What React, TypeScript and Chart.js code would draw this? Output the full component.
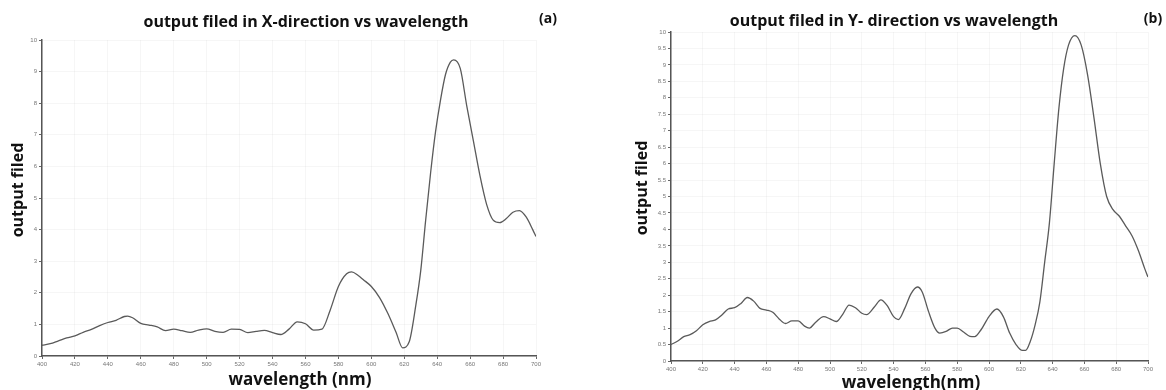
import React, { useEffect, useRef } from "react";
import { Chart, registerables } from "chart.js";
Chart.register(...registerables);

// Panel (a): output field in X-direction
const wavelengthsA = [400, 405, 410, 415, 420, 425, 430, 435, 440, 445, 450, 452, 455, 460, 465, 470, 475, 480, 485, 490, 495, 500, 505, 510, 515, 520, 525, 530, 535, 540, 545, 550, 555, 560, 565, 570, 575, 580, 585, 588, 592, 595, 600, 605, 610, 615, 619, 623, 627, 630, 633, 636, 639, 642, 645, 648, 650, 654, 658, 662, 666, 670, 674, 678, 682, 686, 690, 694, 698, 700];
const fieldA = [0.34, 0.39, 0.48, 0.57, 0.64, 0.75, 0.84, 0.96, 1.06, 1.13, 1.25, 1.26, 1.21, 1.03, 0.98, 0.92, 0.8, 0.85, 0.8, 0.75, 0.82, 0.86, 0.78, 0.75, 0.85, 0.84, 0.74, 0.78, 0.81, 0.74, 0.68, 0.85, 1.08, 1.02, 0.82, 0.85, 1.45, 2.2, 2.6, 2.66, 2.55, 2.42, 2.2, 1.85, 1.35, 0.75, 0.26, 0.45, 1.6, 2.7, 4.3, 5.8, 7.1, 8.1, 8.9, 9.3, 9.37, 9.1, 7.9, 6.8, 5.7, 4.8, 4.3, 4.22, 4.35, 4.55, 4.6, 4.4, 4.0, 3.78];

// Panel (b): output field in Y-direction
const wavelengthsB = [400, 404, 408, 412, 416, 420, 424, 428, 432, 436, 440, 444, 448, 452, 456, 460, 464, 468, 472, 476, 480, 484, 487, 491, 496, 500, 504, 508, 512, 516, 520, 523, 528, 532, 536, 540, 543, 547, 551, 555, 558, 562, 566, 569, 573, 577, 580, 584, 588, 591, 595, 600, 605, 609, 613, 617, 621, 623, 626, 629, 632, 635, 638, 641, 644, 647, 650, 654, 658, 662, 666, 670, 674, 678, 682, 686, 690, 694, 698, 700];
const fieldB = [0.5, 0.6, 0.74, 0.8, 0.92, 1.1, 1.2, 1.25, 1.4, 1.58, 1.62, 1.75, 1.93, 1.82, 1.6, 1.55, 1.48, 1.28, 1.14, 1.22, 1.22, 1.06, 1.0, 1.18, 1.35, 1.28, 1.2, 1.42, 1.7, 1.62, 1.45, 1.41, 1.65, 1.86, 1.68, 1.35, 1.26, 1.6, 2.05, 2.25, 2.1, 1.5, 1.0, 0.85, 0.9, 1.0, 1.0, 0.88, 0.75, 0.74, 0.95, 1.35, 1.58, 1.35, 0.85, 0.5, 0.32, 0.32, 0.6, 1.1, 1.8, 3.0, 4.2, 6.0, 7.7, 8.9, 9.6, 9.89, 9.6, 8.7, 7.4, 6.0, 5.0, 4.6, 4.4, 4.1, 3.8, 3.35, 2.8, 2.55];

const xMin = 400;
const xMax = 700;
const xStep = 20;
const yMin = 0;
const yMax = 10;
const yStepA = 1;
const yStepB = 0.5;

const titleA = "output filed in X-direction vs wavelength";
const titleB = "output filed in Y- direction vs wavelength";
const letterA = "(a)";
const letterB = "(b)";
const yTitle = "output filed";
const xTitleA = "wavelength (nm)";
const xTitleB = "wavelength(nm)";

type TextItem = { text: string; x: number; y: number; font: string; rotate?: number };

const textPlugin = {
  id: "panelText",
  afterDraw(chart: any, _args: any, opts: any) {
    const ctx = chart.ctx;
    for (const t of (opts.items || []) as TextItem[]) {
      ctx.save();
      ctx.font = t.font;
      ctx.fillStyle = "#111";
      ctx.textAlign = "center";
      ctx.textBaseline = "middle";
      ctx.translate(t.x, t.y);
      if (t.rotate) ctx.rotate(t.rotate);
      ctx.fillText(t.text, 0, 0);
      ctx.restore();
    }
  },
};

type PanelProps = {
  xs: number[];
  ys: number[];
  yStep: number;
  padding: { top: number; right: number; bottom: number; left: number };
  yWidth: number;
  xHeight: number;
  items: TextItem[];
};

function Panel({ xs, ys, yStep, padding, yWidth, xHeight, items }: PanelProps) {
  const ref = useRef<HTMLCanvasElement | null>(null);
  useEffect(() => {
    if (!ref.current) return;
    const tickFont = { family: "Liberation Sans", size: 6 };
    const chart = new Chart(ref.current, {
      type: "line",
      data: {
        datasets: [
          {
            data: xs.map((x, i) => ({ x, y: ys[i] })),
            borderColor: "#5a5a5a",
            borderWidth: 1.3,
            pointRadius: 0,
            fill: false,
            cubicInterpolationMode: "monotone",
          },
        ],
      },
      options: {
        responsive: false,
        animation: false,
        layout: { padding },
        plugins: {
          legend: { display: false },
          tooltip: { enabled: false },
          title: { display: false },
          panelText: { items },
        } as any,
        scales: {
          x: {
            type: "linear",
            min: xMin,
            max: xMax,
            ticks: { stepSize: xStep, font: tickFont, color: "#777", maxRotation: 0, padding: 2 },
            grid: { color: "rgba(0,0,0,0.035)", tickColor: "#666", tickLength: 3 },
            border: { color: "#555", width: 1.5 },
            afterFit: (s: any) => {
              s.height = xHeight;
            },
          },
          y: {
            min: yMin,
            max: yMax,
            ticks: {
              stepSize: yStep,
              font: tickFont,
              color: "#777",
              padding: 2,
              callback: (v: any) => String(Math.round(Number(v) * 10) / 10),
            },
            grid: { color: "rgba(0,0,0,0.035)", tickColor: "#666", tickLength: 3 },
            border: { color: "#555", width: 1.5 },
            afterFit: (s: any) => {
              s.width = yWidth;
            },
          },
        },
      },
      plugins: [textPlugin],
    });
    return () => chart.destroy();
  }, []);
  return <canvas ref={ref} width={583} height={390} style={{ display: "block" }} />;
}

export default function App() {
  const titleFont = "bold 16px 'Open Sans'";
  const letterFont = "bold 14px 'Open Sans'";
  const yTitleFont = "bold 16px 'Open Sans'";
  const xTitleFont = "bold 17px 'Open Sans'";
  return (
    <div style={{ position: "absolute", left: 0, top: 0, width: 1166, height: 390, display: "flex", background: "#fff" }}>
      <Panel
        xs={wavelengthsA}
        ys={fieldA}
        yStep={yStepA}
        padding={{ top: 40, right: 47, bottom: 0, left: 0 }}
        yWidth={42}
        xHeight={34}
        items={[
          { text: titleA, x: 306, y: 22, font: titleFont },
          { text: letterA, x: 548, y: 19, font: letterFont },
          { text: yTitle, x: 18, y: 190, font: yTitleFont, rotate: -Math.PI / 2 },
          { text: xTitleA, x: 300, y: 380, font: xTitleFont },
        ]}
      />
      <Panel
        xs={wavelengthsB}
        ys={fieldB}
        yStep={yStepB}
        padding={{ top: 32, right: 18, bottom: 0, left: 0 }}
        yWidth={88}
        xHeight={29}
        items={[
          { text: titleB, x: 311, y: 21, font: titleFont },
          { text: letterB, x: 570, y: 19, font: letterFont },
          { text: yTitle, x: 59, y: 188, font: yTitleFont, rotate: -Math.PI / 2 },
          { text: xTitleB, x: 328, y: 383, font: xTitleFont },
        ]}
      />
    </div>
  );
}
